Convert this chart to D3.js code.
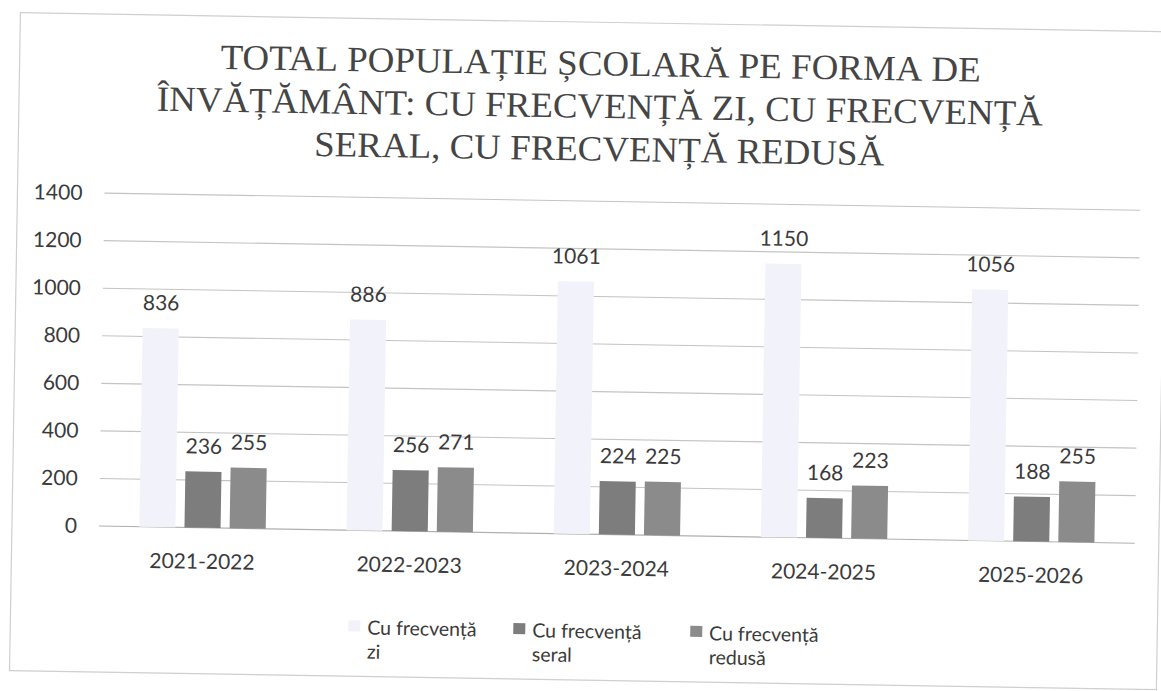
<!DOCTYPE html>
<html>
<head>
  <meta charset="utf-8">
  <title>Total populație școlară</title>
  <script src="https://d3js.org/d3.v7.min.js"></script>
  <style>
    body { margin: 0; background: #fff; }
    text { font-family: Lato, "Open Sans", sans-serif; fill: #3a3a3a; }
    .title { font-family: "Liberation Serif", "Times New Roman", serif; fill: #454545; }
  </style>
</head>
<body>
  <svg id="chart"></svg>

  <script>
    // date
    const categories = ['2021-2022', '2022-2023', '2023-2024', '2024-2025', '2025-2026'];
    const seriesNames = ['Cu frecvență zi', 'Cu frecvență seral', 'Cu frecvență redusă'];
    const ziValues = [836, 886, 1061, 1150, 1056];
    const seralValues = [236, 256, 224, 168, 188];
    const redusaValues = [255, 271, 225, 223, 255];
    const yTicks = [0, 200, 400, 600, 800, 1000, 1200, 1400];
    const titleLines = [
      'TOTAL POPULAȚIE ȘCOLARĂ PE FORMA DE',
      'ÎNVĂȚĂMÂNT: CU FRECVENȚĂ ZI, CU FRECVENȚĂ',
      'SERAL, CU FRECVENȚĂ REDUSĂ'
    ];
    const legendLines = [['Cu frecvență', 'zi'], ['Cu frecvență', 'seral'], ['Cu frecvență', 'redusă']];

    const seriesValues = [ziValues, seralValues, redusaValues];
    const colors = ['#f2f2fb', '#7d7d7d', '#8b8b8b'];

    const width = 1161, height = 691;
    const plot = { left: 102, right: 1138, top: 201, bottom: 534 };

    const svg = d3.select('#chart')
      .attr('width', width)
      .attr('height', height);

    // scanul e ușor rotit
    const root = svg.append('g')
      .attr('transform', 'rotate(0.95, 580, 345)');

    root.append('rect')
      .attr('x', 15).attr('y', 22)
      .attr('width', 1147).attr('height', 658)
      .attr('fill', '#fff')
      .attr('stroke', '#cfcfcf')
      .attr('stroke-width', 1.2);

    // titlu: cuvinte separate, centrate pe fiecare rând
    const titleSize = 35.5;
    const titleG = root.append('g')
      .attr('transform', 'translate(596, 0) scale(1.04, 1)');

    titleLines.forEach((line, li) => {
      const words = line.split(' ');
      const t = titleG.selectAll(null)
        .data(words)
        .enter()
        .append('text')
        .attr('class', 'title')
        .attr('y', 75 + li * 42.7)
        .style('font-size', titleSize + 'px')
        .text(d => d);
      const space = titleSize * 0.25;
      const w = t.nodes().map(n => n.getComputedTextLength());
      const total = d3.sum(w) + space * (words.length - 1);
      let cx = -total / 2;
      t.attr('x', (d, i) => {
        const pos = cx;
        cx += w[i] + space;
        return pos;
      });
    });

    const x0 = d3.scaleBand()
      .domain(categories)
      .range([plot.left, plot.right])
      .paddingInner(0.39)
      .paddingOuter(0.195);

    const x1 = d3.scaleBand()
      .domain(d3.range(seriesNames.length))
      .range([0, x0.bandwidth()])
      .paddingInner(0.2);

    const y = d3.scaleLinear()
      .domain([0, 1400])
      .range([plot.bottom, plot.top]);

    // grila
    root.selectAll('.grid')
      .data(yTicks)
      .enter()
      .append('line')
      .attr('x1', plot.left)
      .attr('x2', plot.right)
      .attr('y1', d => y(d))
      .attr('y2', d => y(d))
      .attr('stroke', d => d === 0 ? '#b0b0b0' : '#c4c4c4')
      .attr('stroke-width', 1.1);

    // axa y
    const yAxis = root.append('g')
      .attr('transform', `translate(${plot.left - 22}, 0)`)
      .call(d3.axisLeft(y).tickValues(yTicks).tickFormat(d3.format('d')).tickSize(0).tickPadding(0));
    yAxis.select('.domain').remove();
    yAxis.selectAll('text')
      .style('font-size', '21px')
      .style('font-family', 'Lato, sans-serif')
      .attr('fill', '#3a3a3a');

    // axa x
    const xAxis = root.append('g')
      .attr('transform', `translate(0, ${plot.bottom})`)
      .call(d3.axisBottom(x0).tickSize(0).tickPadding(0));
    xAxis.select('.domain').remove();
    xAxis.selectAll('text')
      .attr('dy', null)
      .attr('y', 41)
      .style('font-size', '21px')
      .style('font-family', 'Lato, sans-serif')
      .attr('fill', '#3a3a3a');

    // bare
    const groups = root.selectAll('.group')
      .data(categories)
      .enter()
      .append('g')
      .attr('transform', d => `translate(${x0(d)}, 0)`);

    groups.selectAll('rect')
      .data((c, ci) => seriesValues.map((vals, si) => ({ si, v: vals[ci] })))
      .enter()
      .append('rect')
      .attr('x', d => x1(d.si))
      .attr('y', d => y(d.v))
      .attr('width', x1.bandwidth())
      .attr('height', d => y(0) - y(d.v))
      .attr('fill', d => colors[d.si]);

    groups.selectAll('.val')
      .data((c, ci) => seriesValues.map((vals, si) => ({ si, v: vals[ci] })))
      .enter()
      .append('text')
      .attr('class', 'val')
      .attr('x', d => x1(d.si) + x1.bandwidth() / 2)
      .attr('y', d => y(d.v) - 18)
      .attr('text-anchor', 'middle')
      .style('font-size', '21px')
      .text(d => d.v);

    // legenda
    const legendX = [353, 518, 695];
    const legend = root.selectAll('.legend')
      .data(legendLines)
      .enter()
      .append('g')
      .attr('transform', (d, i) => `translate(${legendX[i]}, 638)`);

    legend.append('rect')
      .attr('x', 0).attr('y', -14)
      .attr('width', 12).attr('height', 11)
      .attr('fill', (d, i) => colors[i]);

    legend.selectAll('text')
      .data(d => d)
      .enter()
      .append('text')
      .attr('x', 19)
      .attr('y', (d, i) => i * 24)
      .style('font-size', '19.5px')
      .text(d => d);
  </script>
</body>
</html>
